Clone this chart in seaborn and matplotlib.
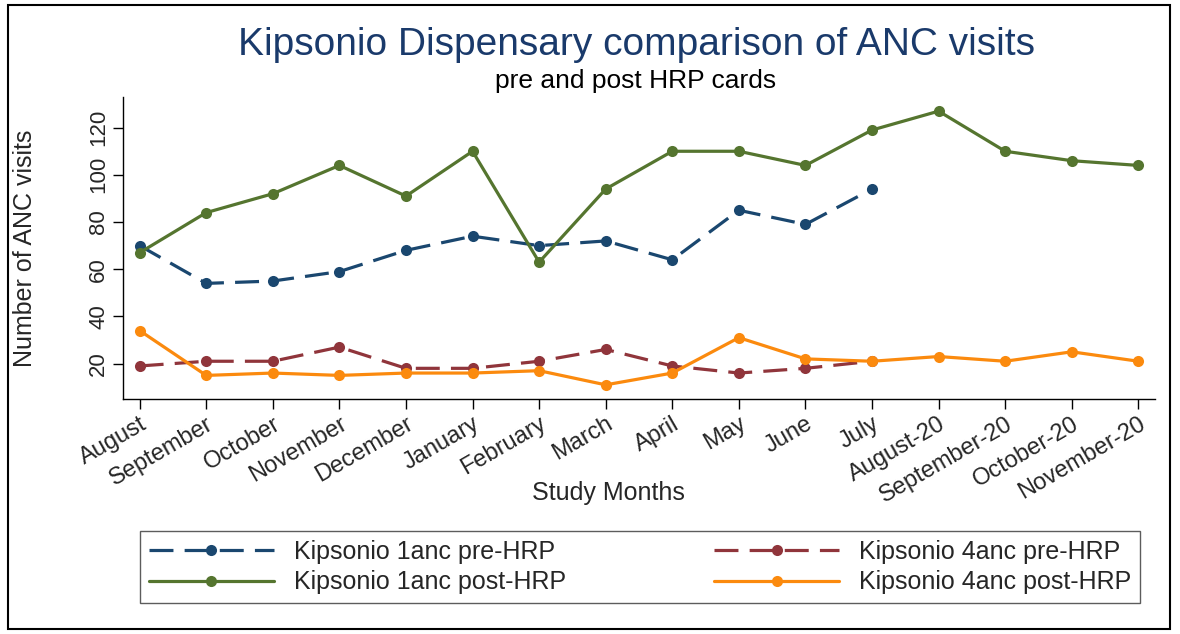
import matplotlib.pyplot as plt
import matplotlib.patches as patches
import seaborn as sns
import pandas as pd

months = ["August", "September", "October", "November", "December", "January",
          "February", "March", "April", "May", "June", "July",
          "August-20", "September-20", "October-20", "November-20"]

anc1_pre = [70, 54, 55, 59, 68, 74, 70, 72, 64, 85, 79, 94]
anc4_pre = [19, 21, 21, 27, 18, 18, 21, 26, 19, 16, 18, 21]
anc1_post = [67, 84, 92, 104, 91, 110, 63, 94, 110, 110, 104, 119, 127, 110, 106, 104]
anc4_post = [34, 15, 16, 15, 16, 16, 17, 11, 16, 31, 22, 21, 23, 21, 25, 21]

series = {
    "Kipsonio 1anc pre-HRP": anc1_pre,
    "Kipsonio 1anc post-HRP": anc1_post,
    "Kipsonio 4anc pre-HRP": anc4_pre,
    "Kipsonio 4anc post-HRP": anc4_post,
}
colors = {
    "Kipsonio 1anc pre-HRP": "#1a476f",
    "Kipsonio 1anc post-HRP": "#55752f",
    "Kipsonio 4anc pre-HRP": "#90353b",
    "Kipsonio 4anc post-HRP": "#fb8a0e",
}
dashes = {
    "Kipsonio 1anc pre-HRP": (7.5, 3.5),
    "Kipsonio 1anc post-HRP": "",
    "Kipsonio 4anc pre-HRP": (7.5, 3.5),
    "Kipsonio 4anc post-HRP": "",
}

rows = []
for name, vals in series.items():
    for i, v in enumerate(vals):
        rows.append({"month": i, "visits": v, "series": name})
df = pd.DataFrame(rows)

sns.set_style("white")
plt.rcParams["font.family"] = ["Liberation Sans", "DejaVu Sans"]

fig = plt.figure(figsize=(11.8, 6.34), dpi=100)
ax = fig.add_axes([123 / 1180, 1 - 399 / 634, (1155 - 123) / 1180, (399 - 97) / 634])

sns.lineplot(data=df, x="month", y="visits", hue="series", style="series",
             hue_order=list(series), style_order=list(series),
             palette=colors, dashes=dashes, markers={k: "o" for k in series},
             markersize=8, markeredgewidth=0, linewidth=2.3, ax=ax, legend=True)

ax.set_xlim(-0.25, 15.25)
ax.set_ylim(5, 133)
ax.set_xticks(range(len(months)))
ax.set_xticklabels(months, rotation=30, ha="right", rotation_mode="anchor", fontsize=17)
ax.set_yticks([20, 40, 60, 80, 100, 120])
ax.set_yticklabels(["20", "40", "60", "80", "100", "120"], rotation=90, va="center", fontsize=16)
ax.tick_params(axis="both", direction="out", length=7, width=1, color="black",
               bottom=True, left=True, pad=3)
ax.set_xlabel("Study Months", fontsize=18)
ax.set_ylabel("Number of ANC visits", fontsize=18)
ax.xaxis.set_label_coords(0.47, -0.27)
ax.yaxis.set_label_coords(-0.083, 0.5)
for s in ["top", "right"]:
    ax.spines[s].set_visible(False)
for s in ["left", "bottom"]:
    ax.spines[s].set_color("black")
    ax.spines[s].set_linewidth(1)

handles, labels = ax.get_legend_handles_labels()
ax.get_legend().remove()
fig.legend(handles, labels, loc="lower left",
           bbox_to_anchor=(140 / 1180, 1 - 603 / 634, 1000 / 1180, 72 / 634),
           mode="expand", ncol=2, fontsize=18, frameon=True, fancybox=False,
           edgecolor="#333333", handlelength=5, borderpad=0.35, labelspacing=0.25,
           borderaxespad=0)

fig.text(636 / 1180, 1 - 45 / 634, "Kipsonio Dispensary comparison of ANC visits",
         ha="center", va="center", fontsize=28, color="#1a3a6b")
fig.text(636 / 1180, 1 - 81 / 634, "pre and post HRP cards",
         ha="center", va="center", fontsize=19, color="black")

fig.add_artist(patches.Rectangle((8 / 1180, 5 / 634), 1162 / 1180, 624 / 634,
                                 transform=fig.transFigure, fill=False,
                                 edgecolor="black", linewidth=1.5))

fig.savefig("out.png", dpi=100)
